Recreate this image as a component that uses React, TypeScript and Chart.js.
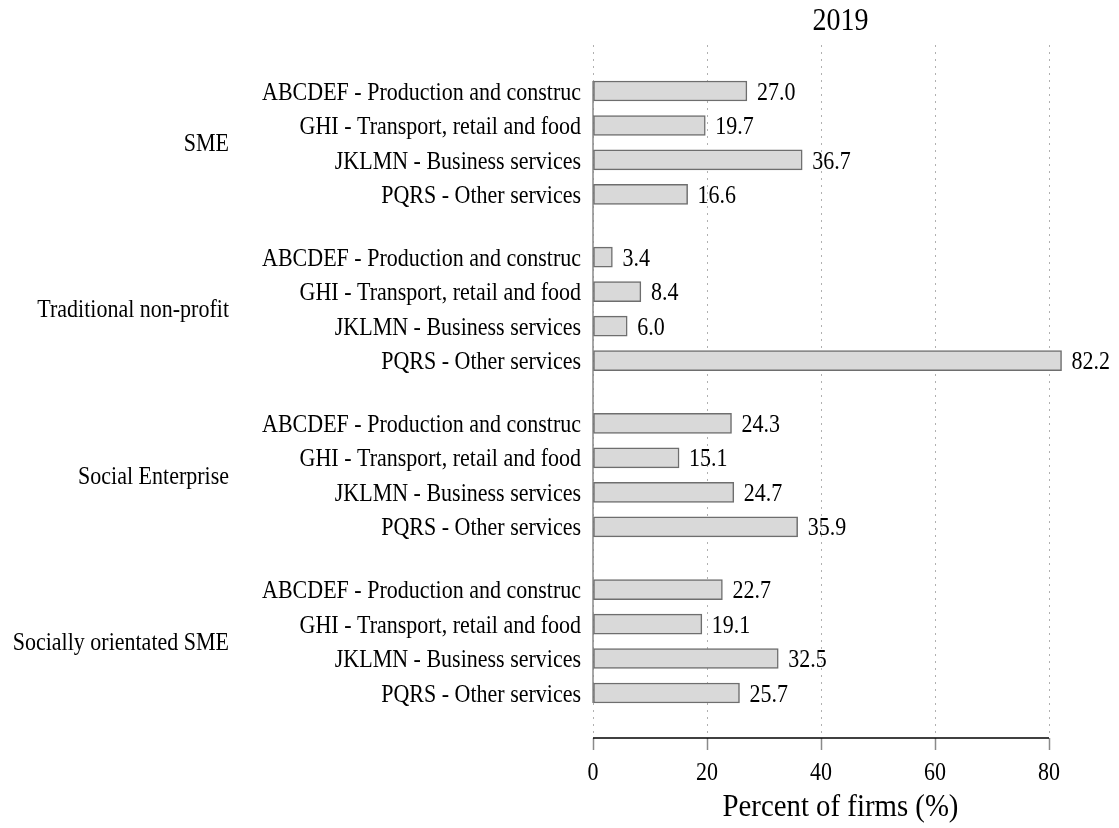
import React, { useEffect, useRef } from 'react';
import { Chart, registerables } from 'chart.js';

Chart.register(...registerables);

const groups = ['SME', 'Traditional non-profit', 'Social Enterprise', 'Socially orientated SME'];
const sectors = [
  'ABCDEF - Production and construc',
  'GHI - Transport, retail and food',
  'JKLMN - Business services',
  'PQRS - Other services',
];
const smeValues = [27.0, 19.7, 36.7, 16.6];
const nonProfitValues = [3.4, 8.4, 6.0, 82.2];
const socialEnterpriseValues = [24.3, 15.1, 24.7, 35.9];
const sociallyOrientatedValues = [22.7, 19.1, 32.5, 25.7];
const xTicks = [0, 20, 40, 60, 80];
const titleText = '2019';
const xTitle = 'Percent of firms (%)';

const FONT = "'Liberation Serif', 'Times New Roman', serif";
const SX = 0.88;
const GROUP_STEP = 4.82;
const Y_MIN = -1.334;
const Y_MAX = 18.765;
const X_MAX = 86.84;

const groupValues = [smeValues, nonProfitValues, socialEnterpriseValues, sociallyOrientatedValues];

const points: { x: number; y: number }[] = [];
const positions: number[] = [];
const tickLabels: string[] = [];
groupValues.forEach((vals, g) => {
  vals.forEach((v, i) => {
    const pos = g * GROUP_STEP + i;
    points.push({ x: v, y: pos });
    positions.push(pos);
    tickLabels.push(sectors[i]);
  });
});

function drawText(
  ctx: CanvasRenderingContext2D,
  text: string,
  x: number,
  y: number,
  size: number,
  align: CanvasTextAlign,
  sx: number = SX,
) {
  ctx.save();
  ctx.font = `${size}px ${FONT}`;
  ctx.fillStyle = '#000';
  ctx.textBaseline = 'middle';
  ctx.textAlign = align;
  ctx.translate(x, y);
  ctx.scale(sx, 1);
  ctx.fillText(text, 0, 0);
  ctx.restore();
}

const overlayPlugin = {
  id: 'overlay',
  beforeDatasetsDraw(chart: any) {
    const { ctx } = chart;
    const xs = chart.scales.x;
    const ys = chart.scales.y;
    const x0 = xs.getPixelForValue(0);
    const top = ys.getPixelForValue(positions[0]) - 10;
    const bottom = ys.getPixelForValue(positions[positions.length - 1]) + 10;
    ctx.save();
    ctx.strokeStyle = '#8a8a8a';
    ctx.lineWidth = 1.5;
    ctx.beginPath();
    ctx.moveTo(x0, top);
    ctx.lineTo(x0, bottom);
    ctx.stroke();
    ctx.restore();
  },
  afterDatasetsDraw(chart: any) {
    const { ctx, chartArea } = chart;
    const xs = chart.scales.x;
    const ys = chart.scales.y;
    const meta = chart.getDatasetMeta(0);
    const cx = (chartArea.left + chartArea.right) / 2;

    // title
    drawText(ctx, titleText, cx, 22, 32, 'center', 0.875);

    // value labels
    meta.data.forEach((el: any, i: number) => {
      const p = el.getProps(['x', 'y'], true);
      drawText(ctx, points[i].x.toFixed(1), p.x + 10, p.y + 2, 25, 'left');
    });

    // y tick labels (sector names)
    ys.ticks.forEach((t: any) => {
      const py = ys.getPixelForValue(t.value);
      const label = Array.isArray(t.label) ? t.label.join(' ') : String(t.label ?? '');
      drawText(ctx, label, chartArea.left - 12, py + 2, 25, 'right');
    });

    // group labels
    groups.forEach((g, gi) => {
      const a = ys.getPixelForValue(positions[gi * 4]);
      const b = ys.getPixelForValue(positions[gi * 4 + 3]);
      drawText(ctx, g, 229, (a + b) / 2 + 2, 25, 'right');
    });

    // x tick labels
    xs.ticks.forEach((t: any) => {
      const px = xs.getPixelForValue(t.value);
      drawText(ctx, String(t.label), px, chartArea.bottom + 35, 25, 'center');
    });

    // x title
    drawText(ctx, xTitle, cx, 808, 32, 'center', 0.9);

    // x axis line
    ctx.save();
    ctx.strokeStyle = '#000';
    ctx.lineWidth = 1.5;
    ctx.beginPath();
    ctx.moveTo(xs.getPixelForValue(0), chartArea.bottom);
    ctx.lineTo(xs.getPixelForValue(xTicks[xTicks.length - 1]), chartArea.bottom);
    ctx.stroke();
    ctx.restore();
  },
};

export default function App() {
  const ref = useRef<HTMLCanvasElement>(null);
  useEffect(() => {
    document.body.style.margin = '0';
    const canvas = ref.current!;
    const chart = new Chart(canvas, {
      type: 'bar',
      data: {
        datasets: [
          {
            data: points as any,
            backgroundColor: '#d9d9d9',
            borderColor: '#6e6e6e',
            borderWidth: 1.5,
            borderSkipped: false,
            barThickness: 20,
          },
        ],
      },
      options: {
        indexAxis: 'y',
        animation: false,
        responsive: true,
        maintainAspectRatio: false,
        layout: { padding: { top: 45, right: 31, bottom: 0, left: 0 } },
        plugins: {
          legend: { display: false },
          tooltip: { enabled: false },
          title: { display: false },
        },
        scales: {
          x: {
            type: 'linear',
            position: 'bottom',
            min: 0,
            max: X_MAX,
            offset: false,
            afterBuildTicks: (s: any) => {
              s.ticks = xTicks.map((v) => ({ value: v }));
            },
            afterFit: (s: any) => {
              s.height = 90;
            },
            grid: {
              color: '#b0b0b0',
              lineWidth: 1,
              drawTicks: true,
              tickLength: 12,
              tickColor: '#8a8a8a',
              tickWidth: 1.5,
              tickBorderDash: [],
            } as any,
            border: { display: false, dash: [2, 5] },
            ticks: {
              display: false,
              callback: (v: any) => String(v),
            },
            title: { display: false },
          },
          y: {
            type: 'linear',
            reverse: true,
            offset: false,
            min: Y_MIN,
            max: Y_MAX,
            afterBuildTicks: (s: any) => {
              s.ticks = positions.map((p) => ({ value: p }));
            },
            afterFit: (s: any) => {
              s.width = 593;
            },
            grid: { display: false, drawTicks: false },
            border: { display: false },
            ticks: {
              display: false,
              autoSkip: false,
              callback: (v: any) => {
                const idx = positions.findIndex((p) => Math.abs(p - Number(v)) < 1e-6);
                return idx >= 0 ? tickLabels[idx] : '';
              },
            },
          },
        },
      },
      plugins: [overlayPlugin],
    });
    return () => chart.destroy();
  }, []);
  return (
    <div style={{ width: 1119, height: 828, position: 'relative' }}>
      <canvas ref={ref} />
    </div>
  );
}
